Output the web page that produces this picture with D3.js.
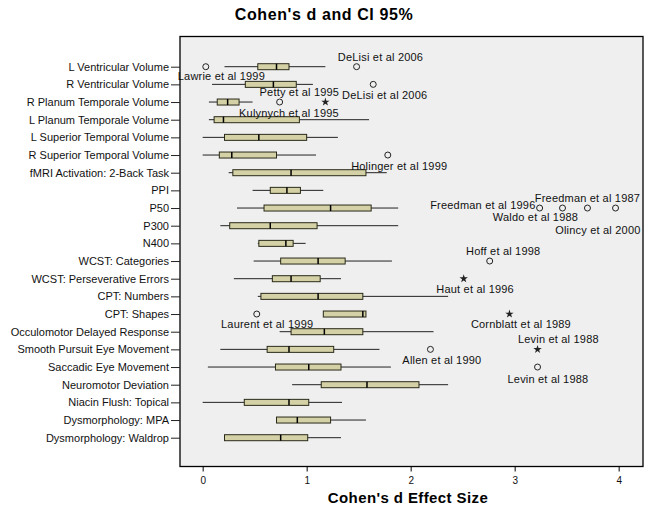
<!DOCTYPE html>
<html>
<head>
<meta charset="utf-8">
<script src="https://cdn.jsdelivr.net/npm/d3@7"></script>
<style>
  body { margin: 0; background: #fff; }
  text { font-family: "Liberation Sans", Arial, sans-serif; }
</style>
</head>
<body>
<div id="chart"></div>
<script>
// rows, top to bottom
const rows = [
  "L Ventricular Volume", "R Ventricular Volume", "R Planum Temporale Volume",
  "L Planum Temporale Volume", "L Superior Temporal Volume", "R Superior Temporal Volume",
  "fMRI Activation: 2-Back Task", "PPI", "P50", "P300", "N400", "WCST: Categories",
  "WCST: Perseverative Errors", "CPT: Numbers", "CPT: Shapes", "Occulomotor Delayed Response",
  "Smooth Pursuit Eye Movement", "Saccadic Eye Movement", "Neuromotor Deviation",
  "Niacin Flush: Topical", "Dysmorphology: MPA", "Dysmorphology: Waldrop"
];
const whiskerLow  = [0.21, 0.09, 0.06, 0.06, 0.00, 0.00, 0.25, 0.48, 0.33, 0.17, 0.53, 0.49, 0.30, 0.53, 1.16, 0.74, 0.17, 0.05, 0.86, 0.00, 0.71, 0.21];
const q1          = [0.53, 0.41, 0.14, 0.11, 0.21, 0.16, 0.29, 0.65, 0.59, 0.26, 0.54, 0.75, 0.67, 0.56, 1.16, 0.85, 0.62, 0.70, 1.14, 0.40, 0.71, 0.21];
const median      = [0.71, 0.68, 0.24, 0.20, 0.54, 0.28, 0.85, 0.81, 1.23, 0.65, 0.80, 1.11, 0.85, 1.11, 1.54, 1.17, 0.83, 1.02, 1.58, 0.83, 0.91, 0.75];
const q3          = [0.83, 0.90, 0.35, 0.93, 1.00, 0.71, 1.57, 0.94, 1.62, 1.10, 0.87, 1.37, 1.13, 1.54, 1.57, 1.54, 1.26, 1.33, 2.08, 1.02, 1.23, 1.01];
const whiskerHigh = [1.18, 1.06, 0.48, 1.60, 1.30, 1.09, 1.77, 1.16, 1.88, 1.88, 0.99, 1.82, 1.33, 2.36, 1.57, 2.22, 1.70, 1.81, 2.36, 1.34, 1.57, 1.33];

// outliers: row index, value, kind
const outlierRow   = [0, 0, 1, 2, 2, 5, 8, 8, 8, 8, 11, 12, 14, 14, 16, 16, 17];
const outlierValue = [0.03, 1.48, 1.64, 0.74, 1.18, 1.78, 3.24, 3.46, 3.70, 3.97, 2.76, 2.51, 0.52, 2.95, 2.19, 3.22, 3.22];
const outlierKind  = ["o", "o", "o", "o", "*", "o", "o", "o", "o", "o", "o", "*", "o", "*", "o", "*", "o"];

// study labels: text, x value, row index, offset in px from row
const labelText = ["DeLisi et al 2006", "Lawrie et al 1999", "DeLisi et al 2006", "Petty et al 1995",
  "Kulynych et al 1995", "Holinger et al 1999", "Freedman et al 1987", "Freedman et al 1996",
  "Waldo et al 1988", "Olincy et al 2000", "Hoff et al 1998", "Haut et al 1996",
  "Laurent et al 1999", "Cornblatt et al 1989", "Levin et al 1988", "Allen et al 1990", "Levin et al 1988"];
const labelValue = [1.71, 0.18, 1.75, 0.93, 0.83, 1.89, 3.70, 3.20, 3.20, 3.80, 2.89, 2.62, 0.62, 3.06, 3.42, 2.30, 3.32];
const labelRow   = [0, 0, 1, 2, 2, 5, 8, 8, 8, 8, 11, 12, 14, 14, 16, 16, 17];
const labelDy    = [-10, 9.5, 11, -10, 10.6, 10.7, -10, -3.3, 9.4, 22.4, -10, 10, 10.3, 10.3, -10, 10.7, 11.6];
const labelAnchor = ["middle", "middle", "middle", "middle", "middle", "middle", "middle", "end",
  "middle", "middle", "middle", "middle", "middle", "middle", "middle", "middle", "middle"];

const xTicks = [0, 1, 2, 3, 4];

const width = 650, height = 509;
const plot = { left: 180, right: 643, top: 36.5, bottom: 466.5 };

const svg = d3.select("#chart").append("svg")
  .attr("width", width)
  .attr("height", height);

const x = d3.scaleLinear().domain([-0.218, 4.234]).range([plot.left, plot.right]);
const y = d3.scalePoint().domain(rows).range([66.7, 437.7]);

svg.append("text")
  .attr("x", 324).attr("y", 20)
  .attr("text-anchor", "middle")
  .style("font-size", "16px").style("font-weight", "bold")
  .style("letter-spacing", "0.6px")
  .text("Cohen's d and CI 95%");

svg.append("rect")
  .attr("x", plot.left).attr("y", plot.top)
  .attr("width", plot.right - plot.left).attr("height", plot.bottom - plot.top)
  .attr("fill", "#efefef");

// boxes
const g = svg.append("g");
rows.forEach((r, i) => {
  const cy = y(r);
  g.append("line")
    .attr("x1", x(whiskerLow[i])).attr("x2", x(whiskerHigh[i]))
    .attr("y1", cy).attr("y2", cy)
    .attr("stroke", "#222").attr("stroke-width", 1);
  g.append("rect")
    .attr("x", x(q1[i])).attr("y", cy - 3)
    .attr("width", x(q3[i]) - x(q1[i])).attr("height", 6)
    .attr("fill", "#d3d1a5").attr("stroke", "#2a2a1a").attr("stroke-width", 1);
  g.append("line")
    .attr("x1", x(median[i])).attr("x2", x(median[i]))
    .attr("y1", cy - 3).attr("y2", cy + 3)
    .attr("stroke", "#000").attr("stroke-width", 1.5);
});

// outliers
outlierValue.forEach((v, i) => {
  const cx = x(v), cy = y(rows[outlierRow[i]]);
  if (outlierKind[i] === "o") {
    g.append("circle").attr("cx", cx).attr("cy", cy).attr("r", 3)
      .attr("fill", "none").attr("stroke", "#222").attr("stroke-width", 1);
  } else {
    g.append("path").attr("d", d3.symbol(d3.symbolStar, 22)())
      .attr("transform", `translate(${cx},${cy})`)
      .attr("fill", "#222");
  }
});

// study labels
labelText.forEach((t, i) => {
  g.append("text")
    .attr("x", x(labelValue[i]))
    .attr("y", y(rows[labelRow[i]]) + labelDy[i] + 4)
    .attr("text-anchor", labelAnchor[i])
    .style("font-size", "11px").style("letter-spacing", "0.2px").attr("fill", "#111")
    .text(t);
});

svg.append("rect")
  .attr("x", plot.left).attr("y", plot.top)
  .attr("width", plot.right - plot.left).attr("height", plot.bottom - plot.top)
  .attr("fill", "none").attr("stroke", "#000").attr("stroke-width", 1.3);

// axes
const yAxis = svg.append("g")
  .attr("transform", `translate(${plot.left},0)`)
  .call(d3.axisLeft(y).tickSize(9).tickPadding(2).tickSizeOuter(0));
yAxis.select(".domain").remove();
yAxis.selectAll("text").style("font-size", "11px").attr("fill", "#111")
  .style("font-family", "'Liberation Sans', Arial, sans-serif");
yAxis.selectAll("line").attr("stroke", "#222");

const xAxis = svg.append("g")
  .attr("transform", `translate(0,${plot.bottom})`)
  .call(d3.axisBottom(x).tickValues(xTicks).tickSize(5).tickPadding(5).tickFormat(d3.format("d")));
xAxis.select(".domain").remove();
xAxis.selectAll("text").style("font-size", "10px").attr("fill", "#111")
  .style("font-family", "'Liberation Sans', Arial, sans-serif");

svg.append("text")
  .attr("x", 408).attr("y", 503)
  .attr("text-anchor", "middle")
  .style("font-size", "15px").style("font-weight", "bold")
  .style("letter-spacing", "0.4px")
  .text("Cohen's d Effect Size");
</script>
</body>
</html>
